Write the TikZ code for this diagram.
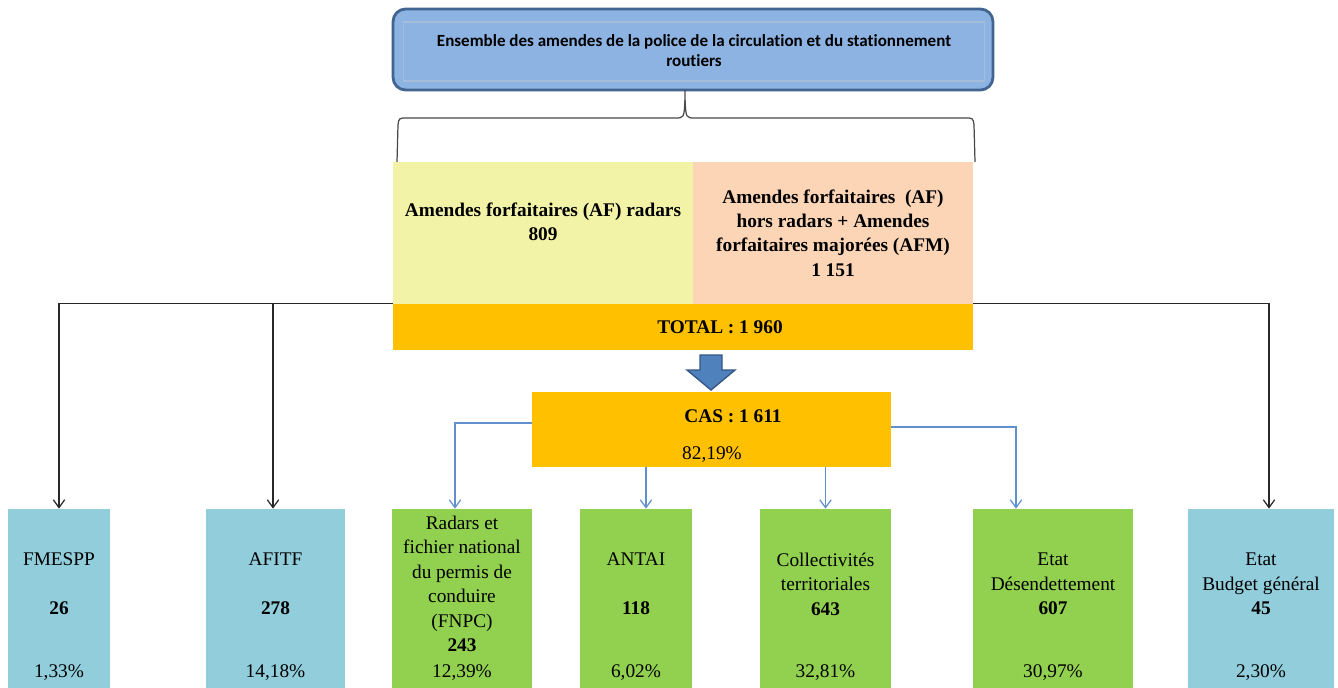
\documentclass[tikz,border=0pt]{standalone}
\usepackage{fontspec}
\setmainfont{Liberation Serif}
\newfontfamily\titlefont[Ligatures=NoCommon]{Carlito}
\usepackage{xcolor}
\usepackage{tikz}
\definecolor{topblue}{RGB}{141,179,226}
\definecolor{topborder}{RGB}{66,100,145}
\definecolor{topinner}{RGB}{165,188,218}
\definecolor{radarcolor}{RGB}{243,243,168}
\definecolor{horscolor}{RGB}{251,213,181}
\definecolor{totalcolor}{RGB}{255,192,0}
\definecolor{greenbox}{RGB}{146,208,80}
\definecolor{bluebox}{RGB}{146,205,220}
\definecolor{flowblue}{RGB}{98,143,206}
\definecolor{arrowblue}{RGB}{79,129,189}
\definecolor{arrowedge}{RGB}{52,86,132}
\definecolor{linegray}{RGB}{40,40,40}
\newcommand{\bodyfont}{\fontsize{11}{13.9}\selectfont}
\usetikzlibrary{arrows.meta, positioning}

\begin{document}
\begin{tikzpicture}[
    x=0.02cm, y=-0.02cm,
    cell/.style={rectangle, inner sep=0pt, align=center, font=\bodyfont},
    dest/.style={cell, minimum height=3.62cm},
    txt/.style={inner sep=0pt, align=center, font=\bodyfont},
    brace/.style={line width=0.7pt, draw=linegray!85},
    blackarrow/.style={-{Straight Barb[length=4.5pt, width=6.5pt]}, line width=0.7pt, draw=linegray},
    bluearrow/.style={-{Straight Barb[length=4.5pt, width=6.5pt]}, line width=0.7pt, draw=flowblue}
]
    \useasboundingbox (0,0) rectangle (1338,687);

    % title box
    \node[rectangle, draw=topborder, line width=1.6pt, fill=topblue, rounded corners=0.25cm,
          minimum width=12cm, minimum height=1.62cm] (ensemble) at (693,49.5) {};
    \node[rectangle, draw=topinner, line width=0.6pt, minimum width=11.64cm, minimum height=1.18cm] (ensemble-inner) at (694,51.5) {};
    \node[inner sep=0pt, align=center, font=\titlefont\bfseries\fontsize{9.7}{11.3}\selectfont] (ensemble-txt) at (694,51) {
        Ensemble des amendes de la police de la circulation et du stationnement\\
        routiers
    };

    % brace
    \coordinate (bracetip) at (685,90);
    \draw[brace] (397,162) -- (398,125) .. controls (399,118) .. (407,118) -- (675,118)
        .. controls (684,118) .. (685,100) -- (bracetip);
    \draw[brace] (975,162) -- (974,125) .. controls (973,118) .. (965,118) -- (695,118)
        .. controls (686,118) .. (685,100);

    % fines
    \node[cell, fill=radarcolor, minimum width=6cm, minimum height=2.84cm] (radars) at (543,233) {};
    \node[txt, font=\bodyfont\bfseries] (radars-txt) at (543,221.5) {
        Amendes forfaitaires (AF) radars\\
        809
    };
    \node[cell, fill=horscolor, minimum width=5.6cm, minimum height=2.84cm, font=\bodyfont\bfseries] (hors) at (833,233) {
        Amendes forfaitaires\ \ (AF)\\
        hors radars + Amendes\\
        forfaitaires majorées (AFM)\\
        1 151
    };
    \node[cell, fill=totalcolor, minimum width=11.6cm, minimum height=0.92cm] (total) at (683,327) {};
    \node[txt, font=\bodyfont\bfseries] (total-txt) at (720,327) {TOTAL : 1 960};

    % block arrow
    \draw[fill=arrowblue, draw=arrowedge, line width=0.8pt, line join=miter]
        (700,355) -- (722,355) -- (722,370) -- (735,370) -- (711,390) -- (687,370) -- (700,370) -- cycle;

    \node[cell, fill=totalcolor, minimum width=7.18cm, minimum height=1.5cm] (cas) at (711.5,429.5) {};
    \node[txt, font=\bodyfont\bfseries] (cas-txt) at (733,416) {CAS : 1 611};
    \node[txt] (cas-pct) at (712,455) {82,19\%};

    % recipients
    \node[dest, fill=bluebox, minimum width=2.04cm] (fmespp) at (59,599.5) {};
    \node[dest, fill=bluebox, minimum width=2.78cm] (afitf) at (275.5,599.5) {};
    \node[dest, fill=greenbox, minimum width=2.8cm] (fnpc) at (462,599.5) {};
    \node[dest, fill=greenbox, minimum width=2.24cm] (antai) at (636,599.5) {};
    \node[dest, fill=greenbox, minimum width=2.62cm] (coll) at (825.5,599.5) {};
    \node[dest, fill=greenbox, minimum width=3.2cm] (desend) at (1053,599.5) {};
    \node[dest, fill=bluebox, minimum width=2.92cm] (budget) at (1261,599.5) {};

    \node[txt] (fmespp-txt) at (fmespp |- 0,584) {FMESPP\\[\baselineskip]\textbf{26}};
    \node[txt] (afitf-txt) at (afitf |- 0,584) {AFITF\\[\baselineskip]\textbf{278}};
    \node[txt] (fnpc-txt) at (fnpc |- 0,584) {Radars et\\fichier national\\du permis de\\conduire\\(FNPC)\\\textbf{243}};
    \node[txt] (antai-txt) at (antai |- 0,584) {ANTAI\\[\baselineskip]\textbf{118}};
    \node[txt] (coll-txt) at (coll |- 0,584) {Collectivités\\territoriales\\\textbf{643}};
    \node[txt] (desend-txt) at (desend |- 0,584) {Etat\\Désendettement\\\textbf{607}};
    \node[txt] (budget-txt) at (budget |- 0,584) {Etat\\Budget général\\\textbf{45}};

    \node[txt] (fmespp-pct) at (fmespp |- 0,673) {1,33\%};
    \node[txt] (afitf-pct) at (afitf |- 0,673) {14,18\%};
    \node[txt] (fnpc-pct) at (fnpc |- 0,673) {12,39\%};
    \node[txt] (antai-pct) at (antai |- 0,673) {6,02\%};
    \node[txt] (coll-pct) at (coll |- 0,673) {32,81\%};
    \node[txt] (desend-pct) at (desend |- 0,673) {30,97\%};
    \node[txt] (budget-pct) at (budget |- 0,673) {2,30\%};

    % connectors
    \draw[blackarrow] (total.north west) -| (fmespp.north);
    \draw[blackarrow] (total.north west) -| ([xshift=-0.05cm]afitf.north);
    \draw[blackarrow] (total.north east) -| ([xshift=0.16cm]budget.north);
    \draw[bluearrow] ([yshift=0.13cm]cas.west) -| ([xshift=-0.14cm]fnpc.north);
    \draw[bluearrow] ([xshift=0.2cm]antai.north |- cas.south) -- ([xshift=0.2cm]antai.north);
    \draw[bluearrow] (coll.north |- cas.south) -- (coll.north);
    \draw[bluearrow] ([yshift=0.05cm]cas.east) -| ([xshift=-0.74cm]desend.north);
\end{tikzpicture}
\end{document}
